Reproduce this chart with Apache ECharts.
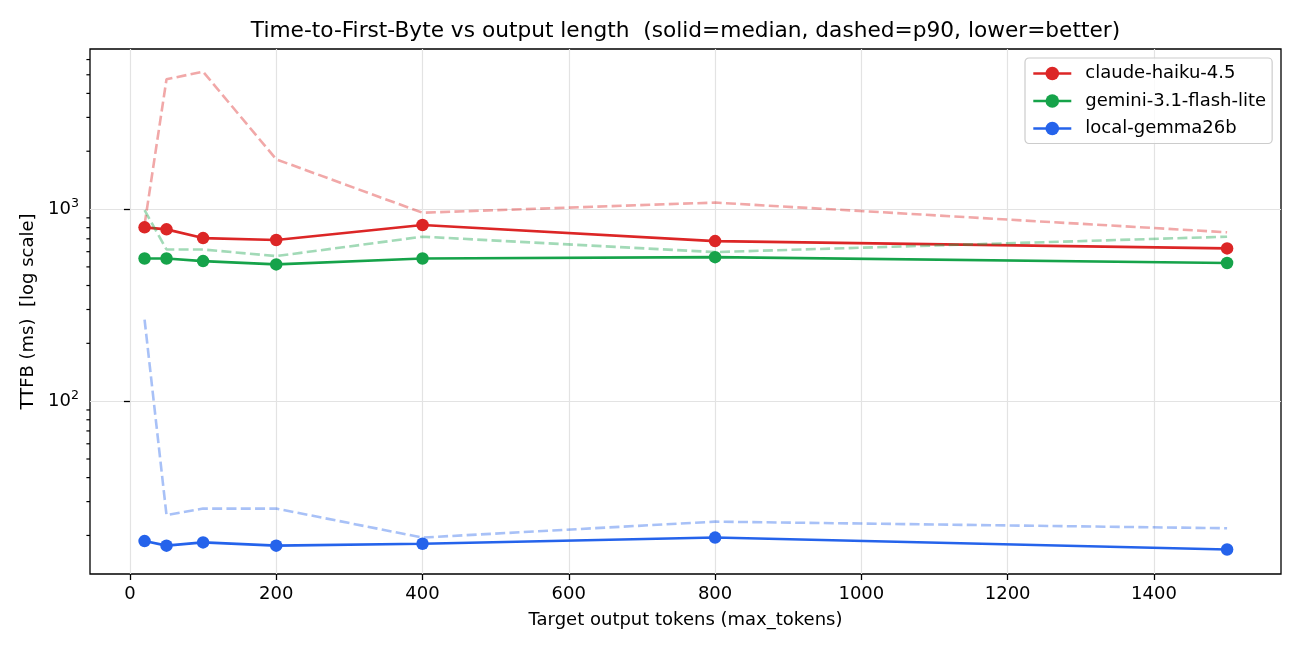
<!DOCTYPE html>
<html><head><meta charset="utf-8">
<script src="https://cdn.jsdelivr.net/npm/echarts@6/dist/echarts.min.js"></script>
<style>html,body{margin:0;padding:0;background:#fff}#c{width:1300px;height:650px}</style>
</head><body><div id="c"></div>
<script>
const tokens = [20, 50, 100, 200, 400, 800, 1500];
const claudeMedian = [803, 784, 706, 690, 826, 681, 624];
const claudeP90 = [830, 4740, 5190, 1815, 957, 1081, 757];
const geminiMedian = [553, 553, 536, 515, 553, 562, 524];
const geminiP90 = [988, 616, 616, 569, 718, 597, 718];
const gemmaMedian = [18.7, 17.7, 18.4, 17.7, 18.1, 19.5, 16.9];
const gemmaP90 = [266, 25.5, 27.6, 27.6, 19.5, 23.6, 21.8];
const modelNames = ['claude-haiku-4.5', 'gemini-3.1-flash-lite', 'local-gemma26b'];
const xTicks = [0, 200, 400, 600, 800, 1000, 1200, 1400];
const yMajorTicks = [100, 1000];
const yMinorTicks = [20, 30, 40, 50, 60, 70, 80, 90, 200, 300, 400, 500, 600, 700, 800, 900, 2000, 3000, 4000, 5000, 6000];
const titleText = 'Time-to-First-Byte vs output length  (solid=median, dashed=p90, lower=better)';
const xName = 'Target output tokens (max_tokens)';
const yName = 'TTFB (ms)  [log scale]';

const colors = ['#dc2626', '#16a34a', '#2563eb'];
const X_MIN = -54.6, X_MAX = 1573.7, Y_MIN = 12.6, Y_MAX = 6810;
const FONT = 'DejaVu Sans';
const FS = 18;

const zip = (xs, ys) => xs.map((x, i) => [x, ys[i]]);
const medians = [claudeMedian, geminiMedian, gemmaMedian];
const p90s = [claudeP90, geminiP90, gemmaP90];

const series = [];
medians.forEach((m, i) => {
  series.push({
    name: modelNames[i], type: 'line', data: zip(tokens, m),
    symbol: 'circle', symbolSize: 12.5, showSymbol: true,
    lineStyle: { color: colors[i], width: 2.6 },
    itemStyle: { color: colors[i] }, z: 3 + i * 2, animation: false
  });
  series.push({
    name: modelNames[i] + ' p90', type: 'line', data: zip(tokens, p90s[i]),
    symbol: 'none', showSymbol: false,
    lineStyle: { color: colors[i], width: 2.6, type: [10, 4.3], opacity: 0.4 },
    itemStyle: { color: colors[i] }, z: 4 + i * 2, animation: false
  });
});
series.push({
  type: 'custom', name: 'minorTicks', silent: true, clip: false, z: 20,
  data: yMinorTicks.map(v => [X_MIN, v]),
  renderItem: (params, api) => {
    const p = api.coord([api.value(0), api.value(1)]);
    return { type: 'line', shape: { x1: p[0] - 3.6, y1: p[1], x2: p[0], y2: p[1] }, style: { stroke: '#000', lineWidth: 1.2 } };
  },
  animation: false
});

const chart = echarts.init(document.getElementById('c'), null, { renderer: 'canvas' });
chart.setOption({
  animation: false,
  backgroundColor: '#fff',
  textStyle: { fontFamily: FONT },
  grid: { left: 90, right: 19, top: 49, bottom: 76, show: true, borderColor: '#000', borderWidth: 1.3, backgroundColor: 'transparent' },
  graphic: [{
    type: 'text', x: 685.5, y: 31, z: 100,
    style: { text: titleText, font: '21.7px "DejaVu Sans"', fill: '#000', align: 'center', verticalAlign: 'middle' }
  }],
  legend: {
    data: modelNames, orient: 'vertical', left: 1025, top: 58,
    padding: [6.5, 6, 6, 7], itemGap: 9.5, itemWidth: 38, itemHeight: 17,
    backgroundColor: 'rgba(255,255,255,0.8)', borderColor: '#cccccc', borderWidth: 1.2, borderRadius: 4,
    lineStyle: { width: 2.6 },
    textStyle: { fontFamily: FONT, fontSize: FS, color: '#000', padding: [0, 0, 0, 9] }
  },
  xAxis: {
    type: 'value', min: X_MIN, max: X_MAX, splitNumber: 8,
    name: xName, nameLocation: 'middle', nameGap: 37,
    nameTextStyle: { fontFamily: FONT, fontSize: FS, color: '#000' },
    axisLine: { show: false },
    axisTick: { show: true, inside: false, length: 6, lineStyle: { color: '#000', width: 1.3 }, customValues: xTicks },
    axisLabel: { fontFamily: FONT, fontSize: FS, color: '#000', margin: 11, customValues: xTicks, formatter: v => String(v) },
    splitLine: { show: true, lineStyle: { color: '#e3e3e3', width: 1.2 } }
  },
  yAxis: {
    type: 'log', logBase: 10, min: Y_MIN, max: Y_MAX,
    name: yName, nameLocation: 'middle', nameGap: 53, nameRotate: 90,
    nameTextStyle: { fontFamily: FONT, fontSize: FS, color: '#000' },
    axisLine: { show: false },
    axisTick: { show: true, length: 6, lineStyle: { color: '#000', width: 1.3 }, customValues: yMajorTicks },
    axisLabel: {
      fontFamily: FONT, margin: 11, customValues: yMajorTicks,
      formatter: v => '{b|10}{s|' + Math.round(Math.log10(v)) + '}',
      rich: {
        b: { fontFamily: FONT, fontSize: FS, color: '#000', lineHeight: 24 },
        s: { fontFamily: FONT, fontSize: 12.6, color: '#000', lineHeight: 12.6, verticalAlign: 'top' }
      }
    },
    splitLine: { show: true, lineStyle: { color: '#e3e3e3', width: 1.2 } }
  },
  series: series
});
</script></body></html>
